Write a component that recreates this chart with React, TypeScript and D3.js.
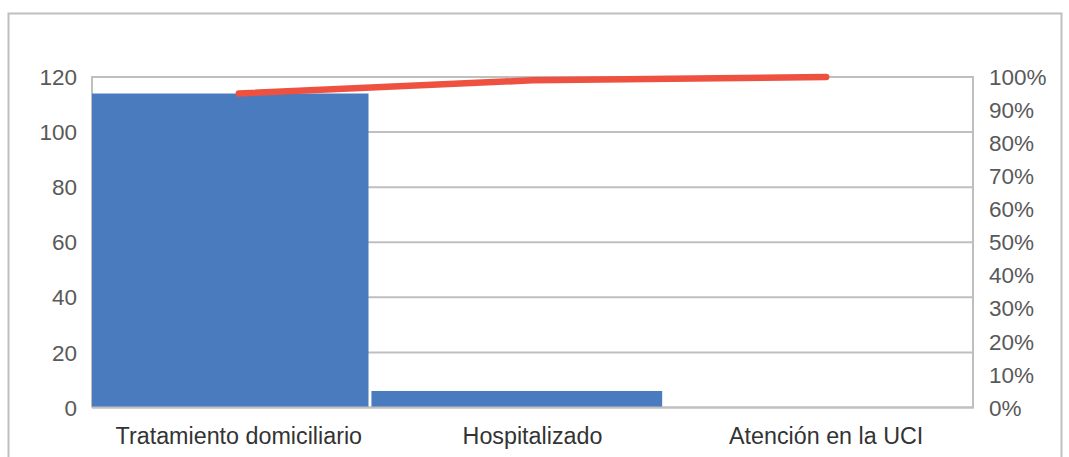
import React from "react";
import * as d3 from "d3";

const categories = ["Tratamiento domiciliario", "Hospitalizado", "Atención en la UCI"];
const counts = [114, 6, 0];
const cumulativePct = [0.95, 0.99, 1.0];
const leftTicks = [0, 20, 40, 60, 80, 100, 120];
const rightTicks = [0, 0.1, 0.2, 0.3, 0.4, 0.5, 0.6, 0.7, 0.8, 0.9, 1.0];

const W = 1069;
const H = 457;
const plot = { left: 92, right: 973, top: 77, bottom: 407.5 };
const barShift = 15.7;
const FONT = "'Liberation Sans', Arial, sans-serif";

export default function App() {
  const x = d3.scaleBand<string>().domain(categories).range([plot.left, plot.right]).padding(0);
  const xBar = d3
    .scaleBand<string>()
    .domain(categories)
    .range([plot.left - barShift, plot.right - barShift])
    .paddingInner(0.01)
    .paddingOuter(0.005);
  const y = d3.scaleLinear().domain([0, 120]).range([plot.bottom, plot.top]);
  const y2 = d3.scaleLinear().domain([0, 1]).range([plot.bottom, plot.top]);
  const line = d3
    .line<number>()
    .x((_, i) => (x(categories[i]) as number) + x.bandwidth() / 2)
    .y((d) => y2(d));
  const grid = "#bfbfbf";

  return (
    <svg
      width={W}
      height={H}
      style={{ position: "absolute", left: 0, top: 0, background: "#fff" }}
      fontFamily={FONT}
    >
      <defs>
        <clipPath id="plotClip">
          <rect x={plot.left} y={0} width={plot.right - plot.left} height={plot.bottom} />
        </clipPath>
      </defs>
      <rect x={8.5} y={13.5} width={1053} height={470} fill="#fff" stroke={grid} strokeWidth={2} />
      {leftTicks.map((t) => (
        <line key={"g" + t} x1={plot.left} x2={plot.right} y1={y(t)} y2={y(t)} stroke={grid} strokeWidth={2} />
      ))}
      <line x1={plot.left} x2={plot.left} y1={plot.top - 1} y2={plot.bottom} stroke={grid} strokeWidth={2} />
      <line x1={plot.right} x2={plot.right} y1={plot.top - 1} y2={plot.bottom + 1} stroke={grid} strokeWidth={2} />
      <g clipPath="url(#plotClip)">
        {counts.map((v, i) => (
          <rect
            key={"b" + i}
            x={xBar(categories[i]) as number}
            y={y(v)}
            width={xBar.bandwidth()}
            height={plot.bottom - y(v)}
            fill="#4a7bbe"
          />
        ))}
      </g>
      <line x1={plot.left} x2={plot.right} y1={plot.bottom} y2={plot.bottom} stroke={grid} strokeWidth={2} />
      <path
        d={line(cumulativePct) as string}
        fill="none"
        stroke="#ef5140"
        strokeWidth={6.5}
        strokeLinecap="round"
        strokeLinejoin="round"
      />
      {leftTicks.map((t) => (
        <text key={"l" + t} x={77} y={y(t)} dy="0.36em" textAnchor="end" fontSize={22.5} fill="#595959">
          {t}
        </text>
      ))}
      {rightTicks.map((t) => (
        <text key={"r" + t} x={989} y={y2(t)} dy="0.36em" textAnchor="start" fontSize={22.5} fill="#595959">
          {d3.format(".0%")(t)}
        </text>
      ))}
      {categories.map((c) => (
        <text
          key={c}
          x={(x(c) as number) + x.bandwidth() / 2}
          y={443.5}
          textAnchor="middle"
          fontSize={23.3}
          fill="#333333"
        >
          {c}
        </text>
      ))}
    </svg>
  );
}
